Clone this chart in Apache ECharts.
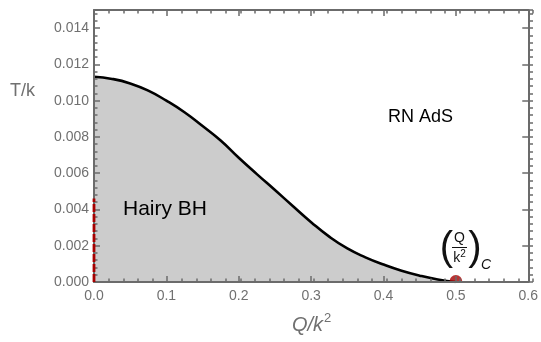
<!DOCTYPE html>
<html>
<head>
<meta charset="utf-8">
<script src="https://cdn.jsdelivr.net/npm/echarts@6/dist/echarts.min.js"></script>
<style>
html,body{margin:0;padding:0;background:#fff;}
#chart{width:541px;height:342px;}
</style>
</head>
<body>
<div id="chart"></div>
<script>
// Phase boundary T/k vs Q/k^2
const Q = [0, 0.025, 0.05, 0.075, 0.1, 0.125, 0.15, 0.175, 0.2, 0.225, 0.25, 0.275, 0.3, 0.325, 0.35, 0.375, 0.4, 0.425, 0.45, 0.475, 0.5];
const T = [0.01132, 0.01120, 0.01095, 0.01055, 0.01000, 0.00936, 0.00860, 0.00780, 0.00685, 0.00595, 0.00507, 0.00418, 0.00330, 0.00250, 0.00185, 0.00136, 0.00096, 0.00062, 0.00035, 0.00014, 0.0];
// Red dashed segment at Q = 0
const redQ = [0, 0];
const redT = [0, 0.0046];
// Critical point
const critQ = [0.5];
const critT = [0.0];
// Axis ranges / ticks
const xTicks = {min: 0, max: 0.6, major: 0.1, minor: 0.02};
const yTicks = {min: 0, max: 0.015, major: 0.002, minor: 0.0004};
const labels = {hairy: 'Hairy BH', rn: 'RN AdS', xName: 'Q/k', yName: 'T/k'};

const grey = '#6b6b6b';
const txtGrey = '#707070';
const font = 'Liberation Sans, Arial, sans-serif';

const chart = echarts.init(document.getElementById('chart'), null, {renderer: 'canvas'});

function majorX(pos) {
  return {
    gridIndex: 0, type: 'value', position: pos, min: xTicks.min, max: xTicks.max, interval: xTicks.major, z: 3,
    axisLine: {show: true, onZero: false, lineStyle: {color: grey, width: 2}},
    axisTick: {show: true, inside: true, length: 6, lineStyle: {color: grey, width: 1.5}},
    axisLabel: {show: pos === 'bottom', formatter: v => v.toFixed(1), color: txtGrey, fontSize: 14, fontFamily: font, margin: 7},
    splitLine: {show: false}
  };
}
function majorY(pos) {
  return {
    gridIndex: 0, type: 'value', position: pos, min: yTicks.min, max: yTicks.max, interval: yTicks.major, z: 3,
    axisLine: {show: true, onZero: false, lineStyle: {color: grey, width: 2}},
    axisTick: {show: true, inside: true, length: 6, lineStyle: {color: grey, width: 1.5}},
    axisLabel: {show: pos === 'left', showMaxLabel: false, formatter: v => v.toFixed(3), color: txtGrey, fontSize: 14, fontFamily: font, margin: 5},
    splitLine: {show: false}
  };
}
function minorX(pos) {
  return {
    gridIndex: 1, type: 'value', position: pos, min: xTicks.min, max: xTicks.max, interval: xTicks.minor, z: 3,
    axisLine: {show: false, onZero: false}, axisLabel: {show: false}, splitLine: {show: false},
    axisTick: {show: true, inside: true, length: 3.5, lineStyle: {color: grey, width: 1.5}}
  };
}
function minorY(pos) {
  return {
    gridIndex: 1, type: 'value', position: pos, min: yTicks.min, max: yTicks.max, interval: yTicks.minor, z: 3,
    axisLine: {show: false, onZero: false}, axisLabel: {show: false}, splitLine: {show: false},
    axisTick: {show: true, inside: true, length: 3.5, lineStyle: {color: grey, width: 1.5}}
  };
}

const gridRect = {left: 94, right: 8, top: 10, bottom: 60};

chart.setOption({
  animation: false,
  backgroundColor: '#ffffff',
  grid: [Object.assign({}, gridRect), Object.assign({}, gridRect)],
  xAxis: [majorX('bottom'), majorX('top'), minorX('bottom'), minorX('top')],
  yAxis: [majorY('left'), majorY('right'), minorY('left'), minorY('right')],
  series: [
    {
      type: 'line', xAxisIndex: 0, yAxisIndex: 0,
      data: Q.map((q, i) => [q, T[i]]),
      symbol: 'none', smooth: 0.5,
      lineStyle: {color: '#000', width: 2.6},
      areaStyle: {color: '#cccccc', opacity: 1},
      z: 2
    },
    {
      type: 'line', xAxisIndex: 0, yAxisIndex: 0,
      data: redQ.map((q, i) => [q, redT[i]]),
      symbol: 'none',
      lineStyle: {color: '#a80000', width: 2.8, type: [8, 2]},
      z: 6
    },
    {
      type: 'scatter', xAxisIndex: 0, yAxisIndex: 0,
      data: critQ.map((q, i) => [q, critT[i]]),
      symbol: 'path://M0,10 A10,10 0 0 1 20,10 Z',
      symbolSize: [13, 7], symbolOffset: [0, '-50%'],
      itemStyle: {color: '#a80000'},
      clip: false, z: 2
    }
  ],
  graphic: [
    {type: 'text', z: 100, left: 123, top: 199, style: {text: labels.hairy, font: '21px ' + font, fill: '#000'}},
    {type: 'text', z: 100, left: 388, top: 108, style: {text: labels.rn, font: '18px ' + font, fill: '#000'}},
    {type: 'text', z: 100, left: 10, top: 82, style: {text: labels.yName, font: '18px ' + font, fill: txtGrey}},
    {type: 'text', z: 100, left: 292, top: 312, style: {
      text: '{a|' + labels.xName + '}{s|2}',
      rich: {
        a: {font: 'italic 20px ' + font, fill: txtGrey, verticalAlign: 'bottom'},
        s: {font: '13px ' + font, fill: txtGrey, verticalAlign: 'top', padding: [0, 0, 10, 1]}
      }
    }},
    // (Q/k^2)_C annotation
    {type: 'text', z: 100, x: 446.5, y: 249, style: {text: '(', font: '40px ' + font, fill: '#111', align: 'center', verticalAlign: 'middle'}},
    {type: 'text', z: 100, x: 459.5, y: 238, style: {text: 'Q', font: '14px ' + font, fill: '#111', align: 'center', verticalAlign: 'middle'}},
    {type: 'line', z: 100, shape: {x1: 452, y1: 247.5, x2: 467, y2: 247.5}, style: {stroke: '#111', lineWidth: 1}},
    {type: 'text', z: 100, x: 459.5, y: 258, style: {
      text: '{k|k}{s|2}', align: 'center', verticalAlign: 'middle',
      rich: {
        k: {font: '14px ' + font, fill: '#111'},
        s: {font: '10px ' + font, fill: '#111', padding: [0, 0, 7, 0]}
      }
    }},
    {type: 'text', z: 100, x: 475, y: 249, style: {text: ')', font: '40px ' + font, fill: '#111', align: 'center', verticalAlign: 'middle'}},
    {type: 'text', z: 100, x: 486, y: 265, style: {text: 'C', font: 'italic 14px ' + font, fill: '#111', align: 'center', verticalAlign: 'middle'}}
  ]
});
</script>
</body>
</html>
